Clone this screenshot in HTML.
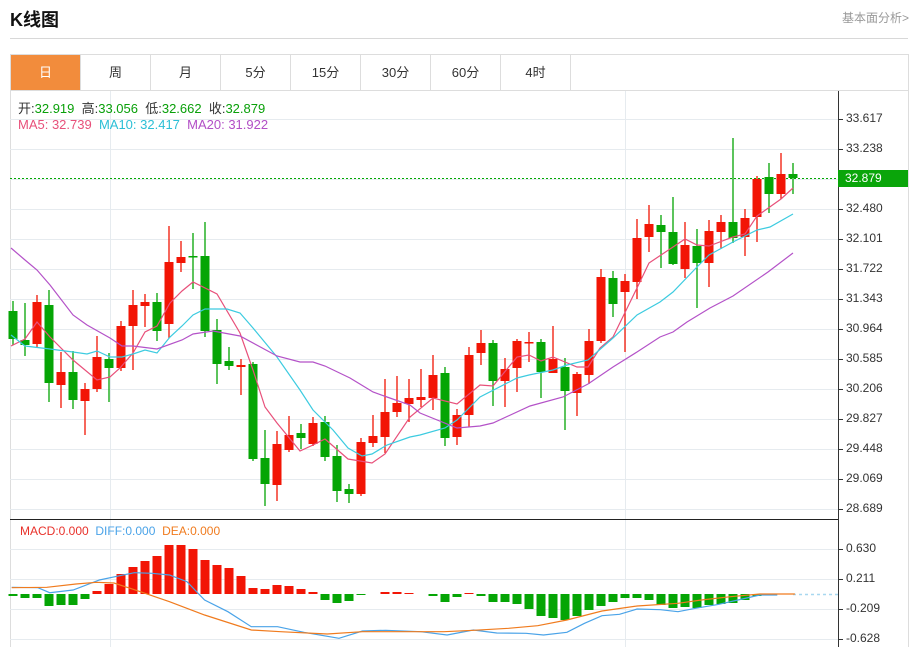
<!DOCTYPE html>
<html><head><meta charset="utf-8">
<style>
body{margin:0;width:912px;height:647px;background:#fff;font-family:"Liberation Sans","Noto Sans CJK SC",sans-serif;overflow:hidden;position:relative}
.t{position:absolute;white-space:nowrap}
.tab{position:absolute;top:55px;height:35px;width:70px;text-align:center;line-height:35px;font-size:13px;color:#333;border-right:1px solid #ddd;box-sizing:border-box}
</style></head><body>
<div class="t" style="left:10px;top:6px;font-size:18px;font-weight:bold;color:#111">K线图</div>
<div class="t" style="left:842px;top:9px;font-size:12px;color:#999">基本面分析&gt;</div>
<div style="position:absolute;left:10px;top:38px;width:898px;height:1px;background:#d8d8d8"></div>
<div style="position:absolute;left:10px;top:54px;width:897px;height:592px;border:1px solid #ddd;border-bottom:none"></div>
<div style="position:absolute;left:10px;top:90px;width:898px;height:1px;background:#ddd"></div>
<div class="tab" style="left:11px;background:#f28c3c;color:#fff">日</div>
<div class="tab" style="left:81px">周</div>
<div class="tab" style="left:151px">月</div>
<div class="tab" style="left:221px">5分</div>
<div class="tab" style="left:291px">15分</div>
<div class="tab" style="left:361px">30分</div>
<div class="tab" style="left:431px">60分</div>
<div class="tab" style="left:501px">4时</div>
<svg id="s" width="912" height="647" style="position:absolute;left:0;top:0"></svg>
<div class="t" style="left:18px;top:98px;font-size:13px;color:#333">开:<span style="color:#09a009">32.919</span>&nbsp; 高:<span style="color:#09a009">33.056</span>&nbsp; 低:<span style="color:#09a009">32.662</span>&nbsp; 收:<span style="color:#09a009">32.879</span></div>
<div class="t" style="left:18px;top:117px;font-size:13px"><span style="color:#e8507a">MA5: 32.739</span>&nbsp; <span style="color:#2bbfd6">MA10: 32.417</span>&nbsp; <span style="color:#b24fc6">MA20: 31.922</span></div>
<div class="t" style="left:20px;top:524px;font-size:12px"><span style="color:#e8312a">MACD:0.000</span>&nbsp; <span style="color:#4aa3e8">DIFF:0.000</span>&nbsp; <span style="color:#f07b1e">DEA:0.000</span></div>
<div id="lab"></div>
<div style="position:absolute;left:838px;top:170px;width:70px;height:17px;background:#0aa50a"></div>
<div class="t" style="left:845px;top:171px;font-size:12px;color:#fff">32.879</div>
<script>
var s=document.getElementById('s'),NS='http://www.w3.org/2000/svg',h='';
function L(x1,y1,x2,y2,c,w,d){h+='<line x1="'+x1+'" y1="'+y1+'" x2="'+x2+'" y2="'+y2+'" stroke="'+c+'" stroke-width="'+(w||1)+'"'+(d?' stroke-dasharray="'+d+'"':'')+'/>';}
var labs=['33.617','33.238','','32.480','32.101','31.722','31.343','30.964','30.585','30.206','29.827','29.448','29.069','28.689'];
var lh='';
for(var i=0;i<14;i++){var y=119+30*i;L(10,y+.5,838,y+.5,'#e6ebef');L(838,y+.5,843,y+.5,'#333');if(labs[i])lh+='<div class="t" style="left:846px;top:'+(y-8)+'px;font-size:12px;color:#333">'+labs[i]+'</div>';}
var ml=['0.630','0.211','-0.209','-0.628'];
for(i=0;i<4;i++){var y=549+30*i;L(10,y+.5,838,y+.5,'#e6ebef');L(838,y+.5,843,y+.5,'#333');lh+='<div class="t" style="left:846px;top:'+(y-8)+'px;font-size:12px;color:#333">'+ml[i]+'</div>';}
document.getElementById('lab').innerHTML=lh;
L(110.5,91,110.5,647,'#e6ebef');L(625.5,91,625.5,647,'#e6ebef');
L(10,519.5,838,519.5,'#222');L(838.5,91,838.5,647,'#333');
L(10,178.5,838,178.5,'#0a0',1,'2,2');
// candles: [bodyTop,bodyBot,hi,lo,red?]
var C=[[311,339,301,345,0],[340,345,303,356,0],[302,344,295,348,1],[305,383,290,402,0],[372,385,352,408,1],[372,400,351,409,0],[389,401,383,435,1],[357,389,336,392,1],[359,368,353,402,0],[326,368,321,371,1],[305,326,290,370,1],[302,306,294,327,1],[302,331,293,341,0],[262,324,226,338,1],[257,263,241,272,1],[256,257,233,289,0],[256,331,222,337,0],[330,364,319,384,0],[361,366,347,370,0],[365,367,359,395,1],[364,459,362,461,0],[458,484,430,506,0],[444,485,431,501,1],[435,450,416,452,1],[433,438,424,449,0],[423,444,417,446,1],[422,457,416,461,0],[456,491,445,502,0],[489,494,484,503,0],[442,494,438,496,1],[436,443,415,447,1],[412,437,379,453,1],[403,412,376,417,1],[398,404,379,422,1],[397,400,369,407,1],[375,398,355,410,1],[373,438,367,446,0],[415,437,409,445,1],[355,415,347,427,1],[343,353,330,365,1],[343,381,340,406,0],[369,381,358,407,1],[341,368,339,392,1],[342,343,332,362,1],[342,372,339,398,0],[359,373,326,373,1],[367,391,358,430,0],[374,393,372,416,1],[341,375,329,384,1],[277,341,269,343,1],[278,304,271,317,0],[281,292,274,352,1],[238,282,219,299,1],[224,237,205,252,1],[225,232,215,268,0],[232,264,197,265,0],[245,269,222,278,1],[246,263,229,308,0],[231,263,220,287,1],[222,232,215,249,1],[222,238,138,243,0],[218,237,209,256,1],[179,217,176,242,1],[177,194,163,213,0],[174,194,153,199,1],[174,178,163,194,0]];
var RED='#f21505',GR='#05a505';
for(i=0;i<C.length;i++){var c=C[i],x=13+12*i,col=c[4]?RED:GR;L(x,c[2],x,c[3],col,1.3);var bh=Math.max(c[1]-c[0],1.5);h+='<rect x="'+(x-4.5)+'" y="'+c[0]+'" width="9" height="'+bh+'" fill="'+col+'"/>';}
function P(pts,col){h+='<polyline fill="none" stroke="'+col+'" stroke-width="1.2" points="'+pts+'"/>';}
P('11,346 25,339 37,322 50,337 73,360 97,380 110,377 120,368 133,353 145,332 157,326 170,303 182,291 193,282 217,294 240,333 253,370 265,407 277,423 300,451 313,445 325,439 348,459 372,463 385,454 410,417 433,398 457,404 480,385 493,386 517,357 529,355 541,361 553,357 577,367 588,367 600,348 613,337 637,288 649,263 673,247 685,239 697,245 709,246 733,237 745,234 757,216 781,199 793,188','#e8507a');
P('11,335 25,346 50,349 73,352 87,354 97,351 110,357 122,357 133,354 145,350 157,353 170,337 182,326 193,315 205,309 227,309 240,313 253,328 277,357 300,390 313,410 333,430 348,448 362,456 372,454 387,445 410,437 420,435 445,428 457,420 480,397 517,378 529,375 553,370 567,365 588,360 613,338 637,315 660,302 673,292 697,267 709,255 733,242 757,230 770,227 793,214','#3ccbe0');
P('11,248 25,260 37,270 50,285 73,315 87,325 110,338 122,346 133,346 157,349 182,340 193,334 213,331 240,336 277,356 300,362 313,362 325,366 350,378 373,392 387,397 410,405 420,413 457,428 480,426 493,423 530,406 563,397 588,384 613,367 637,352 660,337 673,332 687,322 710,308 733,296 768,272 793,253','#b452c8');
// MACD
var M=[-2,-4,-4,-12,-11,-11,-5,3,10,20,27,33,38,49,49,45,34,29,26,18,6,5,9,8,5,2,-6,-9,-7,-1,0,2,2,1,0,-2,-8,-3,1,-2,-8,-8,-10,-15,-22,-24,-26,-22,-16,-12,-8,-4,-4,-6,-11,-14,-13,-14,-11,-10,-9,-6,-2,-1,0,0];
for(i=0;i<M.length;i++){var v=M[i];if(!v)continue;var x=13+12*i;h+='<rect x="'+(x-4.5)+'" y="'+(v>0?594-v:594)+'" width="9" height="'+Math.abs(v)+'" fill="'+(v>0?RED:GR)+'"/>';}
L(793,594.5,838,594.5,'#a8d8f0',1.5,'3,3');
function Q(a,col){var p=[];for(var k=0;k<a.length;k+=2)p.push((a[k]/1.711).toFixed(1)+','+(515+a[k+1]/3).toFixed(1));P(p.join(' '),col);}
Q([20,217,65,218,85,233,125,225,170,195,205,182,230,173,260,175,290,180,320,200,350,255,390,290,430,335,475,335,520,352,580,370,620,348,660,346,720,350,765,360,810,345,850,354,900,355,930,360,970,352,1000,325,1030,302,1060,298,1090,282,1130,284,1160,290,1190,280,1230,268,1270,252,1300,240,1330,240],'#4aa3e8');
Q([20,218,80,217,130,207,165,202,195,204,240,230,290,260,350,300,430,345,480,350,560,357,620,350,700,350,760,350,810,346,870,340,920,332,970,315,1030,288,1090,273,1160,265,1200,255,1250,245,1300,237,1360,237],'#f07b1e');
s.innerHTML=h;
</script>
</body></html>
